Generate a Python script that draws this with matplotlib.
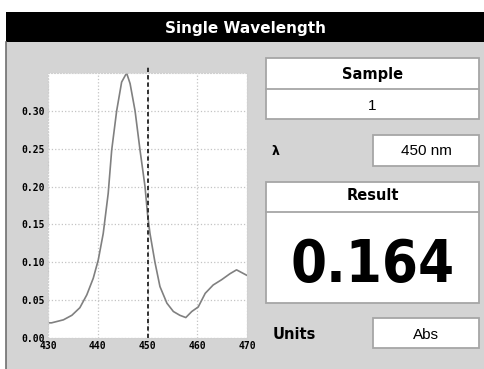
import matplotlib
matplotlib.use("Agg")
import matplotlib.pyplot as plt
from matplotlib.patches import Rectangle
from matplotlib import font_manager

# spectrum
wavelength = [430, 430.7, 433.1, 434.8, 436.4, 437.8, 439.1, 440.1, 441.1, 442.1,
              442.8, 443.8, 444.8, 445.8, 446.5, 447.5, 448.5, 449.5, 450.0, 450.5,
              451.5, 452.5, 453.9, 455.2, 456.5, 457.7, 458.9, 460.2, 461.6, 463.2,
              464.9, 466.6, 467.9, 469.9]
absorbance = [0.020, 0.020, 0.024, 0.030, 0.040, 0.057, 0.079, 0.103, 0.138, 0.191,
              0.248, 0.300, 0.338, 0.350, 0.336, 0.300, 0.248, 0.200, 0.164, 0.138,
              0.100, 0.068, 0.046, 0.035, 0.030, 0.027, 0.035, 0.041, 0.059, 0.070,
              0.077, 0.085, 0.090, 0.083]

xticks = [430, 440, 450, 460, 470]
yticks = [0.00, 0.05, 0.10, 0.15, 0.20, 0.25, 0.30]
ytick_labels = ["0.00", "0.05", "0.10", "0.15", "0.20", "0.25", "0.30"]

title = "Single Wavelength"
sample_no = "1"
sel_wavelength = 450
result = "0.164"
units = "Abs"

W, H = 485, 369
fig = plt.figure(figsize=(W / 100, H / 100), dpi=100)
fig.patch.set_facecolor("white")

def fx(x):
    return x / W

def fy(y):
    return 1 - y / H

def box(x0, y0, x1, y1, fc="white", ec="#a6a6a6", lw=1.3, z=1):
    fig.add_artist(Rectangle((fx(x0), fy(y1)), fx(x1) - fx(x0), fy(y0) - fy(y1),
                             transform=fig.transFigure, fc=fc, ec=ec, lw=lw, zorder=z))

def hline(x0, x1, y, color="#a6a6a6", lw=1.3):
    fig.add_artist(plt.Line2D([fx(x0), fx(x1)], [fy(y), fy(y)], transform=fig.transFigure,
                              color=color, lw=lw))

def label(x, y, s, ha="center", **kw):
    return fig.text(fx(x), fy(y), s, ha=ha, va="baseline", **kw)

# look for a narrow bold face for the big readout
big_font = None
for f in font_manager.fontManager.ttflist:
    if f.stretch in ("condensed", "semi-condensed", "extra-condensed") and f.weight in (700, "bold"):
        if f.style == "normal":
            big_font = font_manager.FontProperties(fname=f.fname)
            break

# window background + title bar
box(6, 42, 486, 370, fc="#d4d4d4", ec="none", z=0)
fig.add_artist(plt.Line2D([fx(6.5), fx(6.5)], [fy(42), fy(369)], transform=fig.transFigure,
                          color="#707070", lw=1.2))
box(6, 12, 486, 42, fc="black", ec="none", z=0)
label(245.5, 33, title, color="white", fontsize=11, fontweight="bold")

# plot
ax = fig.add_axes([fx(48), fy(338), fx(247) - fx(48), fy(73) - fy(338)])
ax.set_facecolor("white")
ax.plot(wavelength, absorbance, color="#808080", lw=1.2)
ax.axvline(sel_wavelength, ymin=0, ymax=1.025, clip_on=False, color="#303030",
           lw=1.4, linestyle=(0, (2.2, 1.6)))
ax.set_xlim(430, 470)
ax.set_ylim(0, 0.35)
ax.set_xticks(xticks)
ax.set_yticks(yticks)
ax.set_yticklabels(ytick_labels)
ax.tick_params(length=0, labelsize=7, pad=2.5)
for t in ax.get_xticklabels() + ax.get_yticklabels():
    t.set_fontfamily("DejaVu Sans Mono")
    t.set_fontweight("bold")
ax.grid(True, linestyle=":", color="#c4c4c4", lw=0.9)
for s in ax.spines.values():
    s.set_color("#d0d0d0")
    s.set_linestyle(":")

# Sample box
box(266, 58, 479, 119)
hline(266, 479, 89)
label(372.5, 79, "Sample", fontsize=10.5, fontweight="bold")
label(372.5, 109.5, sample_no, fontsize=11, fontfamily="Liberation Sans")

# wavelength
label(272, 155, "λ", ha="left", fontsize=9, fontweight="bold")
box(373, 135, 479, 166)
label(426, 155, f"{sel_wavelength} nm", fontsize=11, fontfamily="Liberation Sans")

# Result box
box(266, 182, 479, 303)
hline(266, 479, 212)
label(372.5, 200.5, "Result", fontsize=10.5, fontweight="bold")
if big_font is not None:
    big_font.set_size(54)
    txt = label(372.5, 282, result, fontproperties=big_font)
else:
    txt = label(372.5, 282, result, fontsize=38, fontweight="bold")
# keep the readout inside its box
fig.canvas.draw()
bb = txt.get_window_extent()
if bb.width > 168:
    txt.set_fontsize(txt.get_fontsize() * 164 / bb.width)

# Units
label(273, 339, "Units", ha="left", fontsize=10.5, fontweight="bold")
box(373, 318, 479, 348)
label(426, 339, units, fontsize=11, fontfamily="Liberation Sans")

fig.savefig("out.png", dpi=100)
